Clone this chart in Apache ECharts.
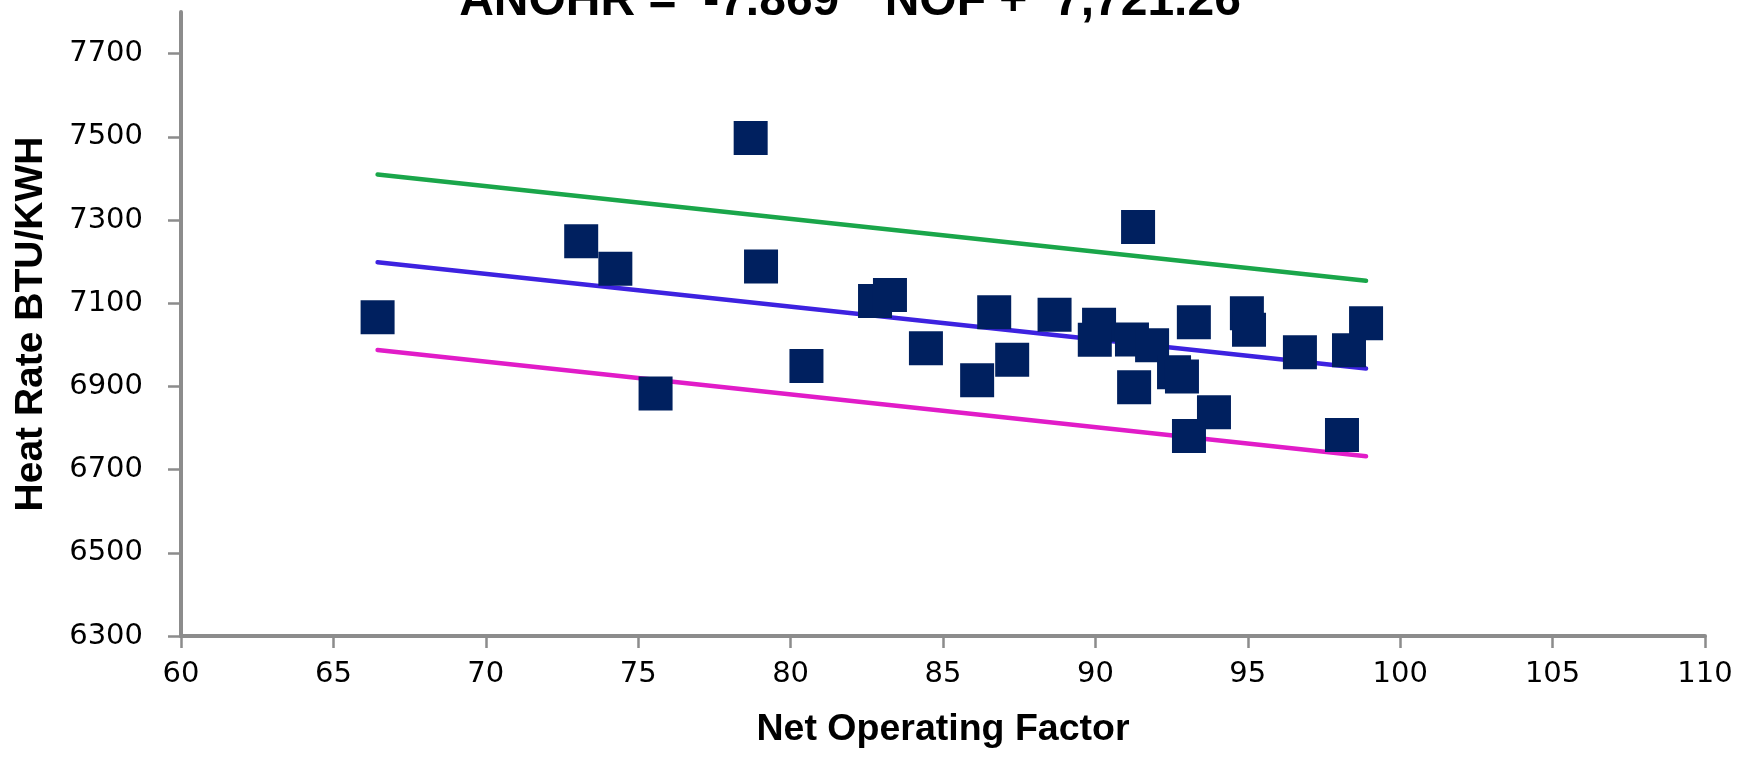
<!DOCTYPE html>
<html>
<head>
<meta charset="utf-8">
<script src="https://cdn.jsdelivr.net/npm/echarts@6/dist/echarts.min.js"></script>
<style>
  html, body { margin: 0; padding: 0; background: #ffffff; }
  #chart { width: 1743px; height: 770px; }
</style>
</head>
<body>
<div id="chart"></div>
<script>
// Net operating factor (%) and heat rate (BTU/KWH) per period
const nof = [66.45, 78.69, 73.13, 74.25, 75.57, 79.03, 80.52, 82.77, 83.26, 84.44,
             86.12, 86.68, 87.27, 88.66, 90.12, 89.98, 91.20, 91.86, 91.27, 92.58,
             92.84, 93.23, 93.89, 93.07, 94.97, 95.04, 96.71, 98.32, 98.88, 98.09,
             91.40];
const heatRate = [7066, 7497, 7249, 7183, 6883, 7188, 6949, 7105, 7120, 6992,
                  6915, 7078, 6964, 7072, 7048, 7012, 7013, 6999, 6898, 6934,
                  6924, 7054, 6838, 6781, 7076, 7036, 6982, 6987, 7052, 6783,
                  7283];

// Fitted relation ANOHR = slope * NOF + intercept, with a band either side
const slope = -7.869;
const intercept = 7721.26;
const band = 211;

// Axis ticks
const xTicks = [60, 65, 70, 75, 80, 85, 90, 95, 100, 105, 110];
const yTicks = [6300, 6500, 6700, 6900, 7100, 7300, 7500, 7700];

const xSpan = [Math.min(...nof), Math.max(...nof)];
const fitLine = xSpan.map(x => [x, slope * x + intercept]);
const upperLine = fitLine.map(p => [p[0], p[1] + band]);
const lowerLine = fitLine.map(p => [p[0], p[1] - band]);

const titleText = 'ANOHR =  ' + slope.toFixed(3) + ' * NOF +  ' +
  intercept.toLocaleString('en-US', { minimumFractionDigits: 2, maximumFractionDigits: 2 });

const FONT = '"Liberation Sans", Arial, sans-serif';
const TICK_FONT = '"DejaVu Sans", Verdana, sans-serif';
const axisGrey = '#8c8c8c';

const chart = echarts.init(document.getElementById('chart'), null, { renderer: 'canvas' });

const lineSeries = (data, color) => ({
  type: 'line',
  data: data,
  symbol: 'none',
  silent: true,
  z: 2,
  lineStyle: { color: color, width: 4.5, cap: 'round' }
});

chart.setOption({
  backgroundColor: '#ffffff',
  animation: false,
  graphic: [{
    type: 'text',
    x: 850,
    y: 2,
    style: {
      text: titleText,
      font: 'bold 48px ' + FONT,
      fill: '#000000',
      align: 'center',
      verticalAlign: 'middle'
    }
  }],
  grid: { left: 181, right: 38, top: 12, bottom: 134, containLabel: false, outerBoundsMode: 'none' },
  xAxis: {
    type: 'value',
    min: xTicks[0],
    max: xTicks[xTicks.length - 1],
    interval: xTicks[1] - xTicks[0],
    name: 'Net Operating Factor',
    nameLocation: 'middle',
    nameGap: 75,
    nameMoveOverlap: false,
    nameTextStyle: { fontFamily: FONT, fontWeight: 'bold', fontSize: 37.5, color: '#000000' },
    axisLine: { show: true, lineStyle: { color: axisGrey, width: 4 } },
    axisTick: { show: true, inside: false, length: 12, lineStyle: { color: axisGrey, width: 2.5 } },
    axisLabel: { margin: 24, fontFamily: TICK_FONT, fontSize: 29, color: '#000000' },
    splitLine: { show: false }
  },
  yAxis: {
    type: 'value',
    min: 6300,
    max: 7800,
    name: 'Heat Rate BTU/KWH',
    nameLocation: 'middle',
    nameRotate: 90,
    nameGap: 130,
    nameMoveOverlap: false,
    nameTextStyle: { fontFamily: FONT, fontWeight: 'bold', fontSize: 39, color: '#000000' },
    axisLine: { show: true, lineStyle: { color: axisGrey, width: 4 } },
    axisTick: { show: true, inside: false, length: 13, customValues: yTicks, lineStyle: { color: axisGrey, width: 2.5 } },
    axisLabel: {
      margin: 38,
      customValues: yTicks,
      formatter: v => String(v),
      fontFamily: TICK_FONT, fontSize: 29, color: '#000000'
    },
    splitLine: { show: false }
  },
  series: [
    lineSeries(upperLine, '#1aa64a'),
    lineSeries(fitLine, '#3d22e0'),
    lineSeries(lowerLine, '#e11cc8'),
    {
      type: 'scatter',
      data: nof.map((x, i) => [x, heatRate[i]]),
      symbol: 'rect',
      symbolSize: 34,
      z: 5,
      itemStyle: { color: '#00205f', opacity: 1 }
    }
  ]
});
</script>
</body>
</html>
